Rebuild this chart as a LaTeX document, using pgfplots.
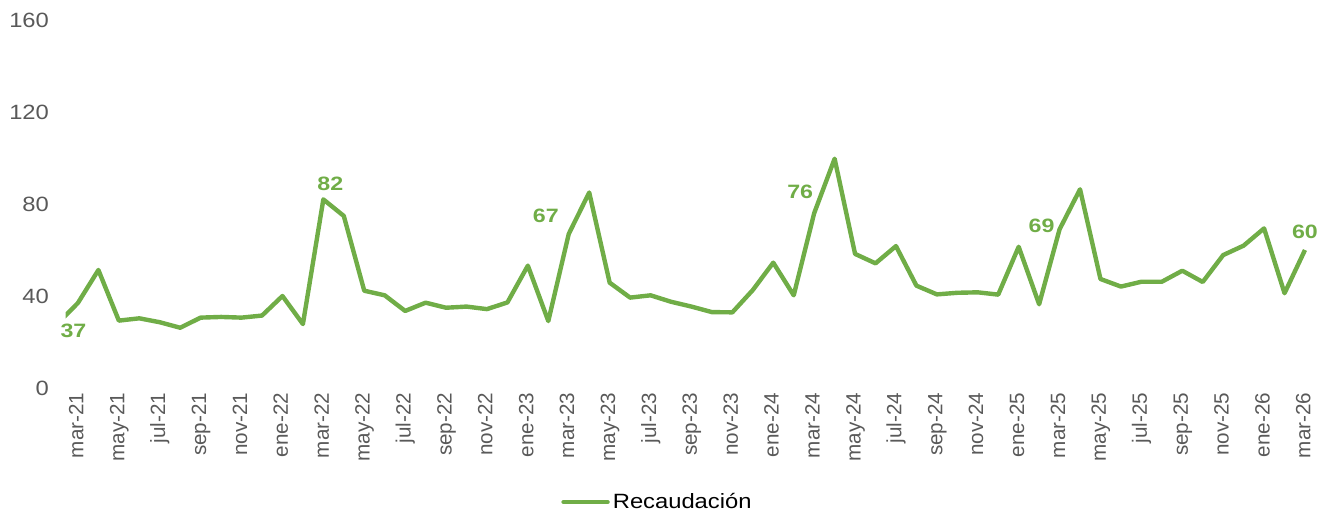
\documentclass[border=0pt]{standalone}
\usepackage{fontspec}
\setmainfont{Liberation Sans}
\usepackage{pgfplots}
\pgfplotsset{compat=1.18}
\definecolor{serie}{RGB}{112,173,71}
\definecolor{ticktext}{RGB}{89,89,89}

% monthly series, index 0 = feb-21 ... 61 = mar-26
\pgfplotstableread{
idx val
0 28.0
1 37
2 51.3
3 29.3
4 30.3
5 28.6
6 26.2
7 30.6
8 30.9
9 30.6
10 31.5
11 40.0
12 27.8
13 82
14 74.8
15 42.3
16 40.3
17 33.5
18 37.1
19 34.9
20 35.4
21 34.3
22 37.2
23 53.2
24 29.1
25 67
26 85.0
27 45.8
28 39.3
29 40.3
30 37.5
31 35.4
32 33.0
33 32.9
34 42.6
35 54.5
36 40.3
37 76
38 99.7
39 58.3
40 54.2
41 61.7
42 44.5
43 40.7
44 41.4
45 41.6
46 40.6
47 61.4
48 36.4
49 69
50 86.4
51 47.4
52 44.1
53 46.2
54 46.2
55 51.0
56 46.1
57 57.8
58 61.9
59 69.4
60 41.2
61 60
}\recaudacion

\begin{document}
\begin{tikzpicture}
\useasboundingbox (0pt,0pt) rectangle (987.75pt,-383.25pt);
\begin{axis}[
  at={(49.26pt,-291pt)}, anchor=south west,
  scale only axis,
  width=934.07pt, height=276pt,
  xmin=0.4, xmax=61.3,
  ymin=0, ymax=160,
  axis line style={draw=none},
  tick style={draw=none},
  ytick={0,40,80,120,160},
  xtick={1,3,...,61},
  xticklabels={mar-21,may-21,jul-21,sep-21,nov-21,
    ene-22,mar-22,may-22,jul-22,sep-22,nov-22,
    ene-23,mar-23,may-23,jul-23,sep-23,nov-23,
    ene-24,mar-24,may-24,jul-24,sep-24,nov-24,
    ene-25,mar-25,may-25,jul-25,sep-25,nov-25,
    ene-26,mar-26},
  /pgf/number format/assume math mode=true,
  yticklabel style={font=\fontsize{15.5}{18}\selectfont, text=ticktext,
    anchor=east, xshift=-8.5pt, xscale=1.15},
  xticklabel style={font=\fontsize{15.5}{18}\selectfont, text=ticktext,
    rotate=90, anchor=east, yshift=-1.5pt,
    text height=0.72em, text depth=0.2em},
  legend style={draw=none, fill=none,
    at={(0.4756,-0.31)}, anchor=center,
    font=\fontsize{15.5}{18}\selectfont,
    nodes={xscale=1.15}},
  legend image code/.code={\draw[#1, line cap=round] (0pt,0pt) -- (33pt,0pt);},
  nodes near coords style={font=\fontsize{14.5}{17}\selectfont\bfseries, text=serie},
]
\addplot[serie, line width=3.3pt, line join=round] table[x=idx, y=val] {\recaudacion};
\addlegendentry{Recaudación}

% value labels
\addplot[forget plot, draw=none, nodes near coords,
  nodes near coords style={anchor=center, xshift=-3.4pt, yshift=-21pt, xscale=1.2}]
  coordinates {(1,37)};
\addplot[forget plot, draw=none, nodes near coords,
  nodes near coords style={anchor=center, xshift=5.2pt, yshift=11.3pt, xscale=1.2}]
  coordinates {(13,82)};
\addplot[forget plot, draw=none, nodes near coords,
  nodes near coords style={anchor=center, xshift=-17.2pt, yshift=13.5pt, xscale=1.2}]
  coordinates {(25,67)};
\addplot[forget plot, draw=none, nodes near coords,
  nodes near coords style={anchor=center, xshift=-10.5pt, yshift=15.8pt, xscale=1.2}]
  coordinates {(37,76)};
\addplot[forget plot, draw=none, nodes near coords,
  nodes near coords style={anchor=center, xshift=-13.5pt, yshift=2.3pt, xscale=1.2}]
  coordinates {(49,69)};
\addplot[forget plot, draw=none, nodes near coords,
  nodes near coords style={anchor=center, xshift=0pt, yshift=13.5pt, xscale=1.2}]
  coordinates {(61,60)};
\end{axis}
\end{tikzpicture}
\end{document}
